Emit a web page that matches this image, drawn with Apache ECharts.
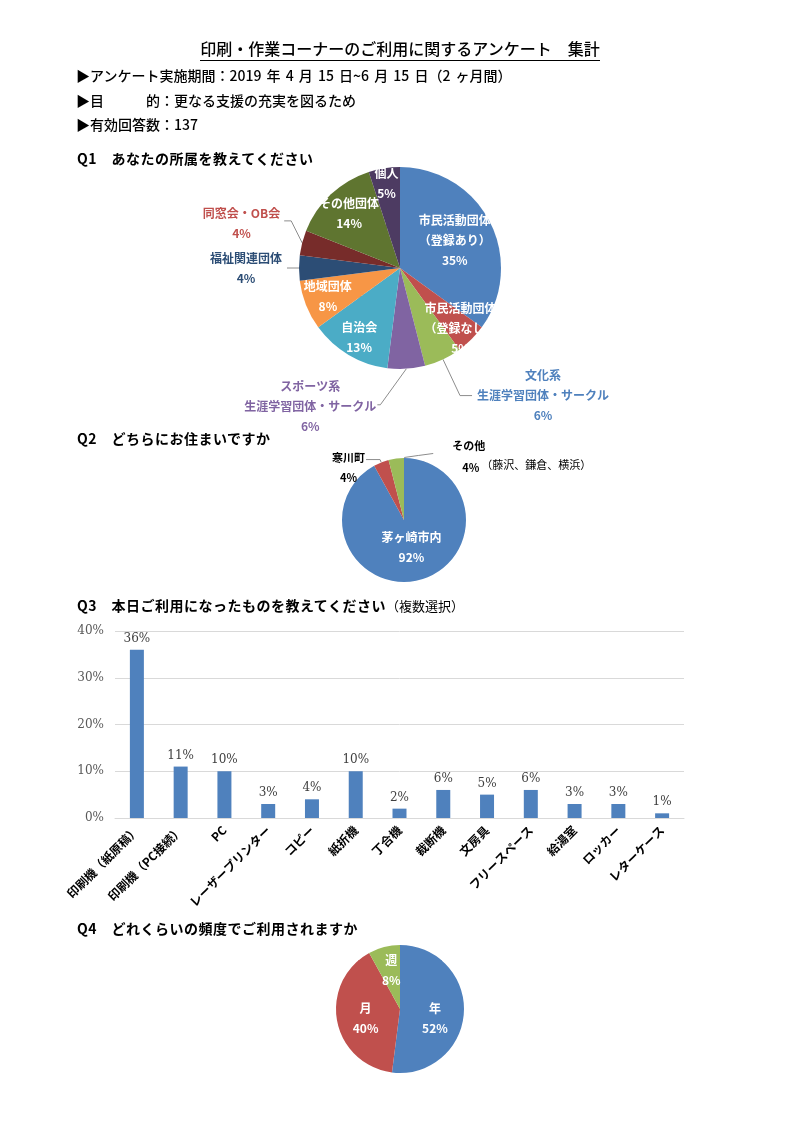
<!DOCTYPE html>
<html lang="ja">
<head>
<meta charset="utf-8">
<title>印刷・作業コーナーのご利用に関するアンケート 集計</title>
<script src="https://cdn.jsdelivr.net/npm/echarts@6/dist/echarts.min.js"></script>
<style>
    html, body { margin: 0; padding: 0; background: #fff; }
    #page { position: relative; width: 800px; height: 1132px; overflow: hidden;
            font-family: 'Noto Sans CJK JP', sans-serif; color: #000; }
    #chart { position: absolute; left: 0; top: 0; width: 800px; height: 1132px; }
    .txt { position: absolute; white-space: nowrap; line-height: 20px; font-size: 14px; font-weight: 500; }
    .title { left: 0; width: 800px; top: 38px; text-align: center; font-size: 16px; }
    .title span { border-bottom: 1px solid #000; padding-bottom: 0; }
    .head { left: 76px; }
    .q { left: 77px; font-weight: bold; letter-spacing: 0.5px; }
    .q .sub { font-weight: normal; font-size: 13px; letter-spacing: 0; }
</style>
</head>
<body>
<div id="page">
    <div id="chart"></div>
    <div class="txt title"><span>印刷・作業コーナーのご利用に関するアンケート　集計</span></div>
    <div class="txt head" style="top:65px; word-spacing: 2px">▶アンケート実施期間：2019 年 4 月 15 日~6 月 15 日（2 ヶ月間）</div>
    <div class="txt head" style="top:90px">▶目　　　的：更なる支援の充実を図るため</div>
    <div class="txt head" style="top:114px">▶有効回答数：137</div>
    <div class="txt q" style="top:148px">Q1　あなたの所属を教えてください</div>
    <div class="txt q" style="top:428px">Q2　どちらにお住まいですか</div>
    <div class="txt q" style="top:595px">Q3　本日ご利用になったものを教えてください<span class="sub">（複数選択）</span></div>
    <div class="txt q" style="top:918px">Q4　どれくらいの頻度でご利用されますか</div>
</div>
<script>
// --- データ ---
const q1Names = ['市民活動団体\n（登録あり）', '市民活動団体\n（登録なし）', '文化系\n生涯学習団体・サークル',
    'スポーツ系\n生涯学習団体・サークル', '自治会', '地域団体', '福祉関連団体', '同窓会・OB会', 'その他団体', '個人'];
const q1Values = [35, 5, 6, 6, 13, 8, 4, 4, 14, 5];

const q2Names = ['茅ヶ崎市内', '寒川町', 'その他'];
const q2Values = [92, 4, 4];
const q2Notes = ['', '', '（藤沢、鎌倉、横浜）'];

const q3Categories = ['印刷機（紙原稿）', '印刷機（PC接続）', 'PC', 'レーザープリンター', 'コピー', '紙折機',
    '丁合機', '裁断機', '文房具', 'フリースペース', '給湯室', 'ロッカー', 'レターケース'];
const q3Values = [36, 11, 10, 3, 4, 10, 2, 6, 5, 6, 3, 3, 1];
const q3AxisMax = 40;
const q3AxisStep = 10;

const q4Names = ['年', '月', '週'];
const q4Values = [52, 40, 8];

// --- 見た目 ---
const JP = "'Noto Sans CJK JP', sans-serif";
const SERIF = "'DejaVu Serif', serif";
const pieColors = ['#4F81BD', '#C0504D', '#9BBB59', '#8064A2', '#4BACC6', '#F79646',
    '#2C4D75', '#772C2A', '#5F7530', '#4D3B62'];

const q1Center = [400, 268];
// 内側ラベルを中心から押し出す倍率 (0 は外側ラベル)
const q1LabelPush = [1.15, 1.6, 0, 0, 1.5, 1.45, 0, 0, 1.39, 1.6];
const q1OuterColor = { 2: '#4F81BD', 3: '#8064A2', 6: '#2C4D75', 7: '#C0504D' };
const q1OuterLine = { 2: [40, 12], 3: [10, 5], 6: [6, 6], 7: [10, 5] };
// Q4 ラベルの上下ずらし
const q4LabelShift = [7, 3, -5];

document.addEventListener('DOMContentLoaded', () => {
    const chart = echarts.init(document.getElementById('chart'), null, { renderer: 'canvas' });

    const q1Data = q1Names.map((name, i) => {
        const item = { name, value: q1Values[i], itemStyle: { color: pieColors[i] } };
        if (q1OuterColor[i]) {
            item.label = { position: 'outside', color: q1OuterColor[i] };
            item.labelLine = { show: true, length: q1OuterLine[i][0], length2: q1OuterLine[i][1] };
        }
        return item;
    });

    const q2Data = q2Names.map((name, i) => {
        const item = { name, value: q2Values[i], itemStyle: { color: pieColors[i] } };
        if (i > 0) {
            item.label = { position: 'outside', color: '#000', fontSize: 11 };
            item.labelLine = { show: true, length: 3, length2: 14 };
        }
        return item;
    });

    const q4Data = q4Names.map((name, i) => ({ name, value: q4Values[i], itemStyle: { color: pieColors[i] } }));

    const centered = (r, extra) => Object.assign({
        x: r.x + r.width / 2, y: r.y + r.height / 2, align: 'center', verticalAlign: 'middle'
    }, extra || {});

    const option = {
        animation: false,
        textStyle: { fontFamily: JP },
        grid: { left: 115, right: 116, top: 631, bottom: 314 },
        xAxis: {
            type: 'category',
            data: q3Categories,
            axisTick: { show: false },
            axisLine: { lineStyle: { color: '#d9d9d9' } },
            axisLabel: { rotate: 45, interval: 0, margin: 10, fontFamily: JP, fontSize: 12, fontWeight: 'bold', color: '#000' }
        },
        yAxis: {
            type: 'value',
            min: 0, max: q3AxisMax, interval: q3AxisStep,
            axisLine: { show: false },
            axisTick: { show: false },
            splitLine: { lineStyle: { color: '#d9d9d9' } },
            axisLabel: { formatter: '{value}%', margin: 11, fontFamily: SERIF, fontSize: 12, color: '#595959' }
        },
        series: [
            {
                // Q1 所属
                type: 'pie',
                center: q1Center,
                radius: 101,
                startAngle: 90,
                avoidLabelOverlap: false,
                data: q1Data,
                label: {
                    position: 'inside', formatter: '{b}\n{c}%',
                    color: '#fff', fontFamily: JP, fontSize: 12, fontWeight: 'bold', lineHeight: 20
                },
                labelLine: { lineStyle: { color: '#8c8c8c', width: 1 } },
                labelLayout: (p) => {
                    const i = p.dataIndex, r = p.labelRect;
                    if (q1LabelPush[i]) {
                        const k = q1LabelPush[i];
                        const mx = r.x + r.width / 2, my = r.y + r.height / 2;
                        return {
                            x: q1Center[0] + (mx - q1Center[0]) * k,
                            y: q1Center[1] + (my - q1Center[1]) * k,
                            align: 'center', verticalAlign: 'middle'
                        };
                    }
                    const [x0, y0] = p.labelLinePoints[0];
                    if (i === 3) {
                        return {
                            x: x0 - 30 - r.width / 2, y: y0 + 38, align: 'center', verticalAlign: 'middle',
                            labelLinePoints: [[x0, y0], [x0 - 26, y0 + 36], [x0 - 29, y0 + 36]]
                        };
                    }
                    if (i === 7) {
                        return {
                            x: x0 - 22 - r.width / 2, y: y0 - 19, align: 'center', verticalAlign: 'middle',
                            labelLinePoints: [[x0, y0], [x0 - 11, y0 - 22], [x0 - 18, y0 - 22]]
                        };
                    }
                    return centered(r, { labelLinePoints: p.labelLinePoints });
                }
            },
            {
                // Q2 お住まい
                type: 'pie',
                center: [404, 520],
                radius: 62,
                startAngle: 90,
                avoidLabelOverlap: false,
                data: q2Data,
                label: {
                    position: 'inside',
                    formatter: (p) => q2Notes[p.dataIndex]
                        ? `{b|${p.name}}\n{v|${p.value}%}{n|${q2Notes[p.dataIndex]}}`
                        : `${p.name}\n${p.value}%`,
                    color: '#fff', fontFamily: JP, fontSize: 12, fontWeight: 'bold', lineHeight: 20,
                    rich: {
                        b: { fontSize: 11, fontWeight: 'bold', color: '#000', lineHeight: 22 },
                        v: { fontSize: 11, fontWeight: 'bold', color: '#000', lineHeight: 22, padding: [0, 2, 0, 10] },
                        n: { fontSize: 11, fontWeight: 'normal', color: '#000', lineHeight: 22, padding: [0, 0, 6, 0] }
                    }
                },
                labelLine: { lineStyle: { color: '#8c8c8c', width: 1 } },
                labelLayout: (p) => {
                    const i = p.dataIndex, r = p.labelRect;
                    if (i === 0) return centered(r, { x: r.x + r.width / 2 - 1, y: r.y + r.height / 2 - 5 });
                    const [x0, y0] = p.labelLinePoints[0];
                    if (i === 2) {
                        return {
                            x: x0 + 56, y: y0 - 2, align: 'left', verticalAlign: 'middle',
                            labelLinePoints: [[x0 + 8, y0 - 1], [x0 + 22, y0 - 3], [x0 + 37, y0 - 5]]
                        };
                    }
                    return centered(r, {
                        x: r.x + r.width / 2 + 4, y: r.y + r.height / 2 + 8,
                        labelLinePoints: p.labelLinePoints
                    });
                }
            },
            {
                // Q3 利用したもの
                type: 'bar',
                data: q3Values,
                barWidth: 14,
                itemStyle: { color: '#4F81BD' },
                label: {
                    show: true, position: 'top', distance: 5, formatter: '{c}%',
                    fontFamily: SERIF, fontSize: 12, color: '#404040'
                }
            },
            {
                // Q4 利用頻度
                type: 'pie',
                center: [400, 1009],
                radius: 64,
                startAngle: 90,
                data: q4Data,
                label: {
                    position: 'inside', formatter: '{b}\n{c}%',
                    color: '#fff', fontFamily: JP, fontSize: 12, fontWeight: 'bold', lineHeight: 20
                },
                labelLayout: (p) => centered(p.labelRect, {
                    y: p.labelRect.y + p.labelRect.height / 2 + q4LabelShift[p.dataIndex]
                })
            }
        ]
    };
    chart.setOption(option);
});
</script>
</body>
</html>
